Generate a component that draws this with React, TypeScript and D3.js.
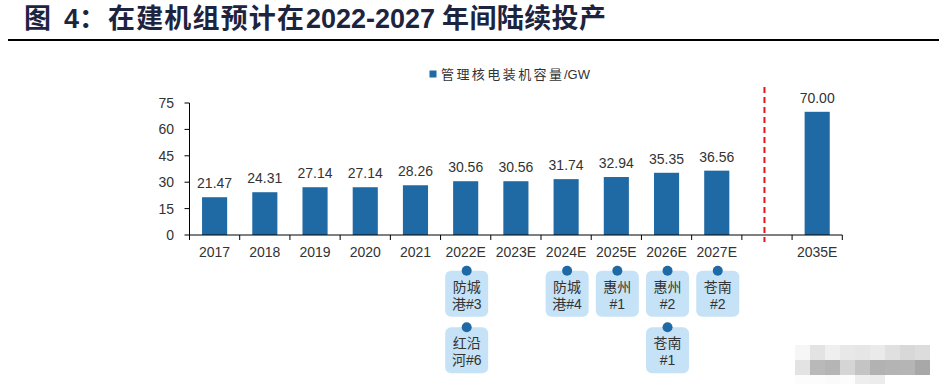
import React from "react";
import * as d3 from "d3";

const categories = ["2017", "2018", "2019", "2020", "2021", "2022E", "2023E", "2024E", "2025E", "2026E", "2027E", "", "2035E"];
const capacity: (number | null)[] = [21.47, 24.31, 27.14, 27.14, 28.26, 30.56, 30.56, 31.74, 32.94, 35.35, 36.56, null, 70.0];
const yTicks = [0, 15, 30, 45, 60, 75];
const seriesName = "管理核电装机容量";
const seriesUnit = "/GW";
const titleParts = ["图", "4：", "在建机组预计在", "2022-2027", "年间陆续投产"];
// units coming online, per category
const units: { cat: string; row: number; lines: [string, string] }[] = [
  { cat: "2022E", row: 0, lines: ["防城", "港#3"] },
  { cat: "2022E", row: 1, lines: ["红沿", "河#6"] },
  { cat: "2024E", row: 0, lines: ["防城", "港#4"] },
  { cat: "2025E", row: 0, lines: ["惠州", "#1"] },
  { cat: "2026E", row: 0, lines: ["惠州", "#2"] },
  { cat: "2026E", row: 1, lines: ["苍南", "#1"] },
  { cat: "2027E", row: 0, lines: ["苍南", "#2"] },
];
const mosaicShades = [
  ["#f6f6f6", "#e3e3e3", "#efefef", "#e8e8e8", "#e6e6e6", "#eaeaea", "#e0e0e0", "#d8d8d8", "#dcdcdc"],
  ["#e3e3e3", "#b9b9b9", "#b5b5b5", "#d5d5d5", "#c4c4c4", "#b2b2b2", "#b4b4b4", "#b5b5b5", "#a8a8a8"],
  ["#fcfcfc", "#fcfcfc", "#fafafa", "#fcfcfc", "#eeeeee", "#ececec", "#ffffff", "#ffffff", "#ffffff"],
];

const W = 939;
const H = 384;
const x0 = 189.5;
const x1 = 842.3;
const yTop = 103;
const yBase = 235;
const num = "'Liberation Sans', Arial, sans-serif";
const cjk = "'Liberation Sans', 'Noto Sans CJK SC', sans-serif";
const barColor = "#1f69a4";

// title segment layout: [x, textLength]
const titleLayout: [number, number | null][] = [
  [24, null],
  [64, null],
  [108, 196],
  [306, 129],
  [442, 164],
];

export default function App() {
  const x = d3.scaleBand<string>().domain(categories).range([x0, x1]).paddingInner(0).paddingOuter(0);
  const bw = x.bandwidth();
  const barW = bw * 0.5;
  const y = d3.scaleLinear().domain([0, 75]).range([yBase, yTop]);
  const gapX = (x("") as number) + bw * 0.45;

  return (
    <svg width={W} height={H} style={{ position: "absolute", left: 0, top: 0, background: "#fff" }}>
      {titleParts.map((t, i) => {
        const [tx, tl] = titleLayout[i];
        return (
          <text
            key={"title" + i}
            x={tx}
            y={28}
            fontFamily={cjk}
            fontWeight="bold"
            fontSize={27}
            fill="#1d2440"
            {...(tl ? { textLength: tl, lengthAdjust: "spacing" } : {})}
          >
            {t}
          </text>
        );
      })}
      <line x1={8} x2={939} y1={40} y2={40} stroke="#000" strokeWidth={2} />

      {/* legend */}
      <rect x={429.5} y={70.5} width={7} height={7} fill={barColor} />
      <text x={441} y={79} fontFamily={cjk} fontSize={13} fill="#333" textLength={121} lengthAdjust="spacing">
        {seriesName}
      </text>
      <text x={564} y={79} fontFamily={num} fontSize={13} fill="#333">
        {seriesUnit}
      </text>

      {/* bars */}
      {categories.map((c, i) => {
        const v = capacity[i];
        if (v == null) return null;
        const cx = (x(c) as number) + bw / 2;
        return (
          <g key={c}>
            <rect x={cx - barW / 2} y={y(v)} width={barW} height={yBase - y(v)} fill={barColor} />
            <text x={cx} y={y(v) - 9} textAnchor="middle" fontFamily={num} fontSize={14} fill="#333">
              {v.toFixed(2)}
            </text>
          </g>
        );
      })}

      {/* y axis */}
      <line x1={x0} x2={x0} y1={yTop} y2={yBase} stroke="#000" strokeWidth={1} />
      {yTicks.map((t) => (
        <g key={t}>
          <line x1={x0 - 5} x2={x0} y1={y(t)} y2={y(t)} stroke="#000" />
          <text x={174} y={y(t)} dy="0.36em" textAnchor="end" fontFamily={num} fontSize={14} fill="#333">
            {t}
          </text>
        </g>
      ))}

      {/* x axis */}
      <line x1={x0} x2={x1} y1={yBase} y2={yBase} stroke="#000" strokeWidth={1} />
      {categories.map((c) => (
        <line key={"t" + c} x1={(x(c) as number) + bw} x2={(x(c) as number) + bw} y1={yBase} y2={yBase + 5} stroke="#000" />
      ))}
      <line x1={x0} x2={x0} y1={yBase} y2={yBase + 5} stroke="#000" />
      {categories.map((c) =>
        c ? (
          <text key={"l" + c} x={(x(c) as number) + bw / 2} y={257} textAnchor="middle" fontFamily={num} fontSize={14} fill="#333">
            {c}
          </text>
        ) : null
      )}

      {/* separator */}
      <line x1={gapX} x2={gapX} y1={87} y2={242} stroke="#e8141c" strokeWidth={2} strokeDasharray="6,4" />

      {/* units */}
      {units.map((u, i) => {
        const cx = (x(u.cat) as number) + bw / 2 + 1;
        const top = 270.7 + u.row * 56.6;
        return (
          <g key={i}>
            <rect x={cx - 21.5} y={top} width={43} height={46} rx={6} fill="#c5e2f6" />
            <circle cx={cx} cy={top} r={5} fill={barColor} />
            <text x={cx} y={top + 21} textAnchor="middle" fontFamily={cjk} fontSize={14} fill="#333">
              {u.lines[0]}
            </text>
            <text x={cx} y={top + 38} textAnchor="middle" fontFamily={cjk} fontSize={14} fill="#333">
              {u.lines[1]}
            </text>
          </g>
        );
      })}

      {/* mosaic */}
      {mosaicShades.map((row, r) =>
        row.map((s, k) => <rect key={r + "-" + k} x={795 + k * 15} y={345 + r * 15} width={15} height={r === 2 ? 9 : 15} fill={s} />)
      )}
    </svg>
  );
}
